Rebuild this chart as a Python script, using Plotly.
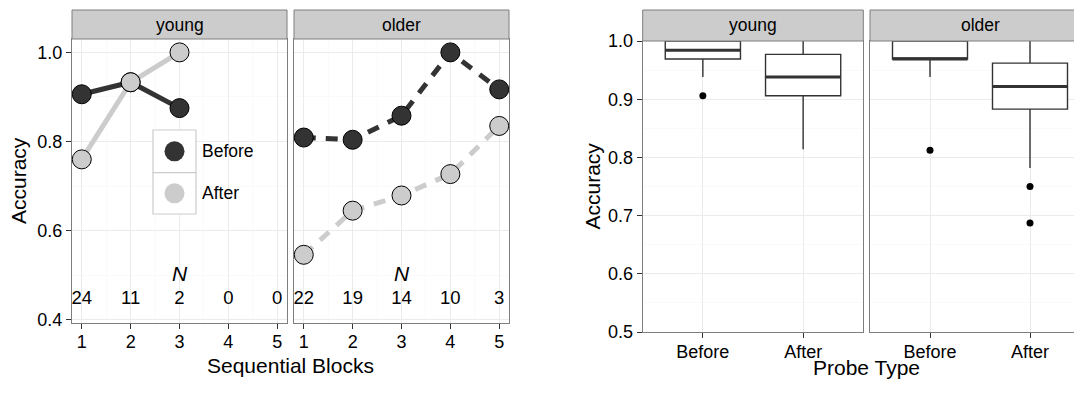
import plotly.graph_objects as go

# ---------------- data ----------------
blocks = [1, 2, 3, 4, 5]
young_before = [0.906, 0.933, 0.875, None, None]
young_after = [0.760, 0.933, 1.000, None, None]
older_before = [0.809, 0.804, 0.858, 1.000, 0.917]
older_after = [0.546, 0.645, 0.679, 0.727, 0.835]
n_young = [24, 11, 2, 0, 0]
n_older = [22, 19, 14, 10, 3]

probe_types = ["Before", "After"]
# young box stats (Before, After)
young_q1 = [0.969, 0.906]
young_med = [0.984, 0.938]
young_q3 = [1.000, 0.977]
young_lo = [0.938, 0.814]
young_hi = [1.000, 1.000]
young_out = [[0.906], []]
# older box stats (Before, After)
older_q1 = [0.969, 0.883]
older_med = [0.969, 0.922]
older_q3 = [1.000, 0.962]
older_lo = [0.938, 0.782]
older_hi = [1.000, 1.000]
older_out = [[0.8125], [0.750, 0.6875]]

# ---------------- layout helpers ----------------
W, H = 1082, 394
OFF = 8  # page body margin offset
FONT = "Liberation Sans, Arial, sans-serif"
DARK, LIGHT = "#333333", "#CCCCCC"

def px(x):
    return (x - OFF) / W

def py(y):
    return 1 - (y - OFF) / H

dom = {
    "x": [px(72), px(287)],
    "x2": [px(294), px(509)],
    "x3": [px(642.7), px(863.3)],
    "x4": [px(870), px(1090)],
}
ydom_left = [py(323), py(39)]
ydom_right = [py(332), py(41)]

fig = go.Figure()

# ---------------- left: lines & points ----------------
def line_panel(xa, ya, before, after, dash):
    fig.add_trace(go.Scatter(x=blocks, y=before, mode="lines", xaxis=xa, yaxis=ya,
                             line=dict(color=DARK, width=5, dash=dash), showlegend=False,
                             connectgaps=False, hoverinfo="skip"))
    fig.add_trace(go.Scatter(x=blocks, y=after, mode="lines", xaxis=xa, yaxis=ya,
                             line=dict(color=LIGHT, width=5, dash=dash), showlegend=False,
                             hoverinfo="skip"))
    fig.add_trace(go.Scatter(x=blocks, y=before, mode="markers", xaxis=xa, yaxis=ya, name="Before",
                             marker=dict(color=DARK, size=19, line=dict(color="black", width=1)),
                             showlegend=False, cliponaxis=False))
    fig.add_trace(go.Scatter(x=blocks, y=after, mode="markers", xaxis=xa, yaxis=ya, name="After",
                             marker=dict(color=LIGHT, size=19, line=dict(color="black", width=1)),
                             showlegend=False, cliponaxis=False))

line_panel("x", "y", young_before, young_after, "solid")
line_panel("x2", "y2", older_before, older_after, "12px,10px")

for xa, ya, ns in (("x", "y", n_young), ("x2", "y2", n_older)):
    fig.add_trace(go.Scatter(x=blocks, y=[0.445] * len(blocks), mode="text", xaxis=xa, yaxis=ya,
                             text=[str(n) for n in ns], textfont=dict(family=FONT, size=18.5, color="black"),
                             showlegend=False, hoverinfo="skip"))
    fig.add_annotation(x=3, y=0.503, xref=xa, yref=ya, text="<i>N</i>", showarrow=False,
                       xanchor="center", yanchor="middle",
                       font=dict(family=FONT, size=21, color="black"))

# ---------------- right: boxplots ----------------
def box_panel(xa, ya, q1, med, q3, lo, hi, outs):
    for i, name in enumerate(probe_types):
        xi = i + 1
        fig.add_trace(go.Box(x=[xi], q1=[q1[i]], median=[med[i]], q3=[q3[i]],
                             lowerfence=[lo[i]], upperfence=[hi[i]], width=0.75,
                             whiskerwidth=0, fillcolor="white", boxpoints=False,
                             line=dict(color=DARK, width=1.4), xaxis=xa, yaxis=ya,
                             showlegend=False, name=name))
        fig.add_trace(go.Scatter(x=[xi - 0.375, xi + 0.375], y=[med[i], med[i]], mode="lines",
                                 line=dict(color=DARK, width=3), xaxis=xa, yaxis=ya,
                                 showlegend=False, hoverinfo="skip"))
        if outs[i]:
            fig.add_trace(go.Scatter(x=[xi] * len(outs[i]), y=outs[i], mode="markers",
                                     marker=dict(color="black", size=7), xaxis=xa, yaxis=ya,
                                     showlegend=False))

box_panel("x3", "y3", young_q1, young_med, young_q3, young_lo, young_hi, young_out)
box_panel("x4", "y4", older_q1, older_med, older_q3, older_lo, older_hi, older_out)

# ---------------- axes ----------------
axis_common = dict(showline=True, mirror=True, linecolor="#7F7F7F", linewidth=1,
                   ticks="outside", ticklen=5, tickcolor="#333333", tickwidth=1,
                   gridcolor="#EBEBEB", gridwidth=1, zeroline=False, automargin=False,
                   tickfont=dict(family=FONT, size=18, color="black"))

lx = dict(axis_common, range=[0.8, 5.2], tickvals=blocks, ticklabelstandoff=-3,
          minor=dict(tickvals=[1.5, 2.5, 3.5, 4.5], showgrid=True, gridcolor="#FAFAFA", ticks=""))
ly = dict(axis_common, range=[0.393, 1.03], tickvals=[0.4, 0.6, 0.8, 1.0], ticktext=["0.4", "0.6", "0.8", "1.0"],
          minor=dict(tickvals=[0.5, 0.7, 0.9], showgrid=True, gridcolor="#FAFAFA", ticks=""))
rx = dict(axis_common, tickvals=[1, 2], ticktext=probe_types, ticklabelstandoff=-2,
          minor=dict(showgrid=False))
ry = dict(axis_common, range=[0.5, 1.0], tickvals=[0.5, 0.6, 0.7, 0.8, 0.9, 1.0],
          ticktext=["0.5", "0.6", "0.7", "0.8", "0.9", "1.0"],
          minor=dict(tickvals=[0.55, 0.65, 0.75, 0.85, 0.95], showgrid=True, gridcolor="#FAFAFA", ticks=""))

fig.update_layout(
    width=W, height=H, autosize=False, margin=dict(l=0, r=0, t=0, b=0, pad=0, autoexpand=False),
    paper_bgcolor="white", plot_bgcolor="white",
    xaxis=dict(lx, domain=dom["x"], anchor="y"),
    yaxis=dict(ly, domain=ydom_left, anchor="x"),
    xaxis2=dict(lx, domain=dom["x2"], anchor="y2"),
    yaxis2=dict(ly, domain=ydom_left, anchor="x2", showticklabels=False, ticks=""),
    xaxis3=dict(rx, domain=dom["x3"], anchor="y3", range=[0.4, 2.6]),
    yaxis3=dict(ry, domain=ydom_right, anchor="x3"),
    xaxis4=dict(rx, domain=dom["x4"], anchor="y4", range=[0.4, 2.6]),
    yaxis4=dict(ry, domain=ydom_right, anchor="x4", showticklabels=False, ticks=""),
    showlegend=False,
)

# ---------------- strips ----------------
strips = [("x", "young", 10, 39), ("x2", "older", 10, 39), ("x3", "young", 10, 41), ("x4", "older", 10, 41)]
for key, label, top, bot in strips:
    x0, x1 = dom[key]
    fig.add_shape(type="rect", xref="paper", yref="paper", x0=x0, x1=x1,
                  y0=py(bot), y1=py(top),
                  fillcolor="#CCCCCC", line=dict(color="#7F7F7F", width=1), layer="above")
    fig.add_annotation(xref="paper", yref="paper", x=(x0 + x1) / 2, y=py((top + bot) / 2), text=label,
                       xanchor="center", yanchor="middle",
                       showarrow=False, font=dict(family=FONT, size=17.5, color="black"))

# ---------------- titles ----------------
title_font = dict(family=FONT, size=21, color="black")
def title(x, y, text, angle=0):
    fig.add_annotation(xref="paper", yref="paper", x=px(x), y=py(y), text=text, textangle=angle,
                       xanchor="center", yanchor="middle", showarrow=False, font=title_font)

title(290.5, 365, "Sequential Blocks")
title(867, 367, "Probe Type")
title(18, 181, "Accuracy", -90)
title(592, 186.5, "Accuracy", -90)

# ---------------- manual legend (inside young panel) ----------------
leg = [("Before", DARK, 130, 172.7), ("After", LIGHT, 172.7, 214)]
for label, col, t, b in leg:
    fig.add_shape(type="rect", xref="paper", yref="paper", x0=px(153), x1=px(196), y0=py(b), y1=py(t),
                  fillcolor="white", line=dict(color="#CCCCCC", width=1.2), layer="above")
    cy = (t + b) / 2
    r = 10
    fig.add_shape(type="circle", xref="paper", yref="paper", x0=px(174.5 - r), x1=px(174.5 + r),
                  y0=py(cy + r), y1=py(cy - r), fillcolor=col, line=dict(width=0), layer="above")
    fig.add_annotation(xref="paper", yref="paper", x=px(200), y=py(cy), xanchor="left", yanchor="middle",
                       text=label, showarrow=False, font=dict(family=FONT, size=17.5, color="black"))

fig.write_html("out.html")
